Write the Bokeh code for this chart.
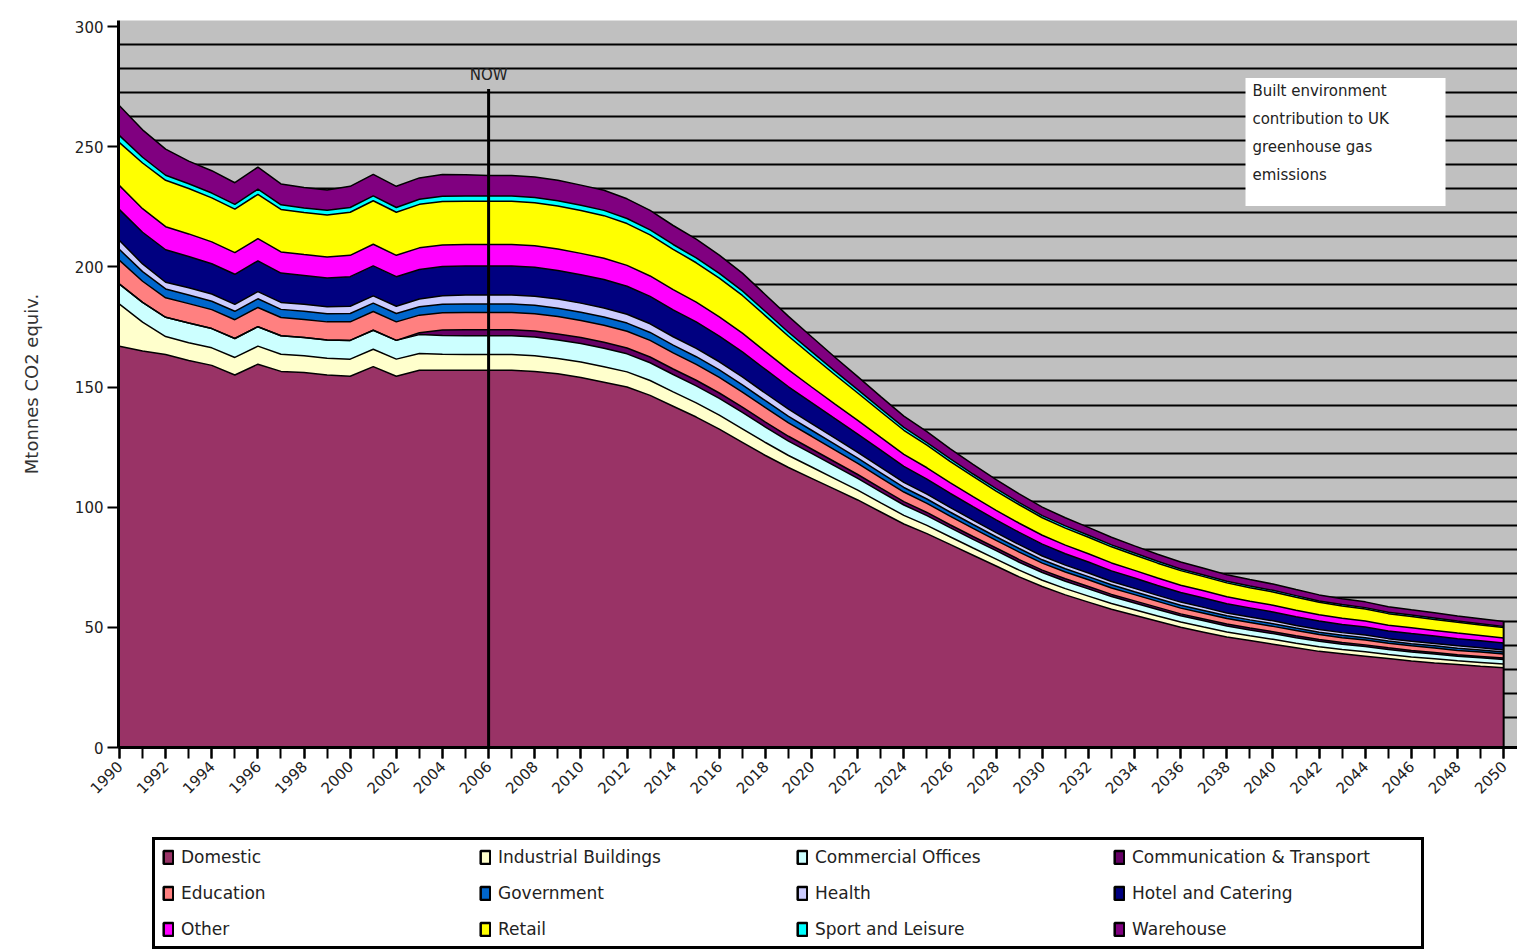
import math
from bokeh.plotting import figure
from bokeh.layouts import column
from bokeh.models import (ColumnDataSource, Range1d, FixedTicker, Grid, Legend,
                          LegendItem, Label, BoxAnnotation)
from bokeh.embed import file_html
from bokeh.resources import INLINE

# ---------------- data ----------------
years = list(range(1990, 2051))
tick_years = list(range(1990, 2051, 2))
y_ticks = [0, 50, 100, 150, 200, 250, 300]
now_year = 2006

labels = ["Domestic", "Industrial Buildings", "Commercial Offices", "Communication & Transport",
          "Education", "Government", "Health", "Hotel and Catering",
          "Other", "Retail", "Sport and Leisure", "Warehouse"]
keys = ["dom", "ind", "com", "ct", "edu", "gov", "hea", "hot", "oth", "ret", "spo", "war"]
colors = ["#993366", "#FFFFCC", "#CCFFFF", "#660066", "#FF8080", "#0066CC",
          "#CCCCFF", "#000080", "#FF00FF", "#FFFF00", "#00FFFF", "#800080"]

# 1990-2006 (history)
dom_hist = [167, 165, 163.5, 161, 159, 155, 159.5, 156.5, 156, 155, 154.5, 158.5, 154.5, 157, 157, 157, 157]
ind_hist = [17.5, 12, 7.5, 7.4, 7.3, 7.3, 7.5, 7.1, 7.0, 7.0, 7.1, 7.2, 7.1, 6.9, 6.6, 6.5, 6.5]
com_hist = [8.3, 8.2, 8.0, 8.2, 8.0, 7.9, 8.1, 7.7, 7.6, 7.6, 7.8, 7.9, 7.8, 7.9, 7.8, 7.8, 7.8]
ct_hist = [0, 0, 0, 0, 0, 0, 0, 0, 0, 0, 0, 0, 0, 0.8, 2.3, 2.5, 2.5]
edu_hist = [9.9, 8.8, 8.1, 8.1, 7.9, 7.8, 8.0, 7.6, 7.5, 7.5, 7.7, 7.8, 7.7, 7.3, 7.2, 7.2, 7.2]
gov_hist = [4.5, 4.0, 3.7, 3.6, 3.5, 3.5, 3.6, 3.4, 3.4, 3.4, 3.5, 3.5, 3.5, 3.5, 3.5, 3.5, 3.5]
hea_hist = [3.8, 3.2, 2.8, 3.0, 3.0, 2.9, 3.0, 2.9, 2.9, 2.9, 3.0, 3.0, 3.0, 3.2, 3.6, 3.8, 3.8]
hot_hist = [12.8, 13.2, 13.5, 13.0, 12.6, 12.5, 12.8, 12.2, 12.0, 12.0, 12.3, 12.5, 12.3, 12.3, 12.1, 12.0, 12.0]
oth_hist = [10.0, 9.8, 9.6, 9.4, 9.1, 9.0, 9.2, 8.8, 8.7, 8.7, 8.9, 9.0, 8.9, 9.0, 9.0, 9.0, 9.0]
ret_hist = [17.9, 19.0, 19.3, 18.9, 18.3, 18.1, 18.5, 17.7, 17.5, 17.5, 17.9, 18.1, 17.9, 18.1, 18.1, 18.0, 18.0]
spo_hist = [2.9, 2.4, 2.1, 2.0, 2.0, 2.0, 2.1, 1.9, 1.9, 1.9, 2.0, 2.0, 2.0, 2.1, 2.2, 2.2, 2.2]
war_hist = [12.4, 11.4, 10.9, 9.4, 9.3, 9.0, 9.2, 8.7, 8.5, 8.5, 8.8, 9.0, 8.8, 8.9, 9.0, 8.8, 8.5]

# 2007-2050 (projection)
dom_proj = [157, 156.5, 155.5, 154, 152, 150, 146.5, 142, 137.5, 132.5, 127, 121.5, 116.5, 112, 107.5,
            103, 98, 93, 89, 84.5, 80, 75.5, 71, 67, 63.5, 60.5, 57.5, 55, 52.5, 50, 48, 46, 44.5,
            43, 41.5, 40, 39, 38, 37, 36, 35.2, 34.5, 33.8, 33.2]
ind_proj = [6.5, 6.5, 6.4, 6.4, 6.4, 6.3, 6.2, 6.0, 5.9, 5.8, 5.6, 5.4, 5.0, 4.7, 4.4, 4.1, 3.8, 3.6,
            3.4, 3.2, 3.0, 2.9, 2.8, 2.6, 2.6, 2.5, 2.4, 2.3, 2.2, 2.2, 2.1, 2.1, 2.0, 2.0, 1.9, 1.9,
            1.8, 1.8, 1.7, 1.7, 1.7, 1.6, 1.6, 1.5]
com_proj = [7.8, 7.8, 7.7, 7.7, 7.7, 7.5, 7.4, 7.2, 7.1, 7.0, 6.8, 6.4, 6.0, 5.7, 5.3, 4.9, 4.6, 4.3,
            4.1, 3.8, 3.6, 3.5, 3.3, 3.2, 3.1, 3.0, 2.9, 2.8, 2.7, 2.6, 2.6, 2.5, 2.4, 2.4, 2.3, 2.3,
            2.2, 2.2, 2.1, 2.0, 2.0, 1.9, 1.9, 1.9]
ct_proj = [2.5, 2.5, 2.5, 2.5, 2.5, 2.4, 2.4, 2.3, 2.3, 2.2, 2.2, 2.1, 2.0, 1.8, 1.7, 1.6, 1.5, 1.4,
           1.3, 1.2, 1.2, 1.1, 1.1, 1.0, 1.0, 1.0, 0.9, 0.9, 0.9, 0.8, 0.8, 0.8, 0.8, 0.8, 0.8, 0.7,
           0.7, 0.7, 0.7, 0.7, 0.6, 0.6, 0.6, 0.6]
edu_proj = [7.2, 7.2, 7.2, 7.1, 7.1, 7.0, 6.9, 6.7, 6.6, 6.5, 6.3, 6.0, 5.6, 5.3, 4.9, 4.6, 4.3, 4.0,
            3.8, 3.6, 3.4, 3.2, 3.1, 2.9, 2.8, 2.8, 2.7, 2.6, 2.5, 2.4, 2.4, 2.3, 2.3, 2.2, 2.2, 2.1,
            2.0, 2.0, 1.9, 1.9, 1.9, 1.8, 1.8, 1.7]
gov_proj = [3.5, 3.5, 3.5, 3.4, 3.4, 3.4, 3.3, 3.2, 3.2, 3.1, 3.0, 2.9, 2.7, 2.5, 2.4, 2.2, 2.1, 1.9,
            1.8, 1.7, 1.6, 1.5, 1.5, 1.4, 1.4, 1.3, 1.3, 1.2, 1.2, 1.2, 1.1, 1.1, 1.1, 1.1, 1.0, 1.0,
            1.0, 1.0, 0.9, 0.9, 0.9, 0.9, 0.9, 0.8]
hea_proj = [3.8, 3.8, 3.8, 3.8, 3.8, 3.7, 3.6, 3.5, 3.5, 3.4, 3.3, 3.1, 3.0, 2.8, 2.6, 2.4, 2.3, 2.1,
            2.0, 1.9, 1.8, 1.7, 1.6, 1.6, 1.5, 1.5, 1.4, 1.4, 1.3, 1.3, 1.3, 1.2, 1.2, 1.2, 1.1, 1.1,
            1.1, 1.1, 1.0, 1.0, 1.0, 1.0, 0.9, 0.9]
hot_proj = [12.0, 12.0, 11.9, 11.8, 11.8, 11.6, 11.4, 11.2, 11.0, 10.7, 10.4, 9.9, 9.3, 8.7, 8.1, 7.6,
            7.1, 6.7, 6.3, 5.9, 5.6, 5.3, 5.1, 4.9, 4.7, 4.6, 4.4, 4.3, 4.1, 4.0, 3.9, 3.8, 3.8, 3.7,
            3.6, 3.5, 3.4, 3.3, 3.2, 3.2, 3.1, 3.0, 2.9, 2.9]
oth_proj = [9.0, 9.0, 8.9, 8.9, 8.9, 8.7, 8.5, 8.4, 8.2, 8.0, 7.8, 7.4, 7.0, 6.5, 6.1, 5.7, 5.3, 5.0,
            4.7, 4.4, 4.2, 4.0, 3.8, 3.7, 3.6, 3.4, 3.3, 3.2, 3.1, 3.0, 3.0, 2.9, 2.8, 2.8, 2.7, 2.6,
            2.6, 2.5, 2.4, 2.4, 2.3, 2.3, 2.2, 2.1]
ret_proj = [18.0, 17.9, 17.9, 17.8, 17.7, 17.4, 17.1, 16.8, 16.4, 16.1, 15.7, 14.9, 14.0, 13.1, 12.2,
            11.4, 10.7, 10.0, 9.4, 8.9, 8.4, 8.0, 7.7, 7.3, 7.1, 6.9, 6.7, 6.4, 6.2, 6.1, 5.9, 5.8,
            5.6, 5.5, 5.4, 5.2, 5.1, 5.0, 4.8, 4.7, 4.6, 4.5, 4.4, 4.3]
spo_proj = [2.2, 2.2, 2.2, 2.2, 2.2, 2.1, 2.1, 2.0, 2.0, 2.0, 1.9, 1.8, 1.7, 1.6, 1.5, 1.4, 1.3, 1.2,
            1.1, 1.1, 1.0, 1.0, 0.9, 0.9, 0.9, 0.8, 0.8, 0.8, 0.8, 0.7, 0.7, 0.7, 0.7, 0.7, 0.7, 0.6,
            0.6, 0.6, 0.6, 0.6, 0.6, 0.5, 0.5, 0.5]
war_proj = [8.5, 8.5, 8.5, 8.4, 8.4, 8.2, 8.1, 7.9, 7.8, 7.6, 7.4, 7.0, 6.6, 6.2, 5.8, 5.4, 5.0, 4.7,
            4.5, 4.2, 4.0, 3.8, 3.6, 3.5, 3.4, 3.3, 3.2, 3.0, 2.9, 2.9, 2.8, 2.7, 2.7, 2.6, 2.5, 2.5,
            2.4, 2.4, 2.3, 2.2, 2.2, 2.1, 2.1, 2.0]

hist = [dom_hist, ind_hist, com_hist, ct_hist, edu_hist, gov_hist, hea_hist, hot_hist,
        oth_hist, ret_hist, spo_hist, war_hist]
proj = [dom_proj, ind_proj, com_proj, ct_proj, edu_proj, gov_proj, hea_proj, hot_proj,
        oth_proj, ret_proj, spo_proj, war_proj]

data = {"year": years}
for k, h, pr in zip(keys, hist, proj):
    col = h + pr
    assert len(col) == len(years), (k, len(col))
    data[k] = col
source = ColumnDataSource(data)
totals = [sum(data[k][i] for k in keys) for i in range(len(years))]

# ---------------- styling ----------------
FONT = "DejaVu Sans"
TXT = "#222222"
pattern_lines = [2.5 + 10 * k for k in range(1, 31)]   # horizontal hatch lines of the plot-area fill

p = figure(width=1517, height=835, output_backend="svg", toolbar_location=None,
           x_range=Range1d(1989.957, 2050.6), y_range=Range1d(0, 302.5),
           min_border_left=118, min_border_right=0, min_border_top=20, min_border_bottom=88)
p.background_fill_color = "#C0C0C0"
p.border_fill_color = "white"
p.outline_line_color = None
p.xgrid.visible = False
p.ygrid.visible = False
p.add_layout(Grid(dimension=1, ticker=FixedTicker(ticks=pattern_lines),
                  grid_line_color="black", grid_line_width=2))

p.varea_stack(stackers=keys, x="year", fill_color=colors, source=source)
p.vline_stack(stackers=keys, x="year", line_color="black", line_width=1.5, source=source)
p.segment(x0=[years[-1]], y0=[0], x1=[years[-1]], y1=[totals[-1]], line_color="black", line_width=2)

# NOW marker
p.segment(x0=[now_year], y0=[0], x1=[now_year], y1=[274], line_color="black", line_width=3)
p.add_layout(Label(x=now_year, y=276, text="NOW", text_align="center", text_baseline="bottom",
                   text_font=FONT, text_font_size="15px", text_color=TXT))

# annotation box
p.add_layout(BoxAnnotation(left=2038.81, right=2047.48, bottom=225.3, top=278.6,
                           fill_color="white", fill_alpha=1, line_color=None, level="annotation"))
box_lines = ["Built environment", "contribution to UK", "greenhouse gas", "emissions"]
for i, t in enumerate(box_lines):
    p.add_layout(Label(x=2039.11, y=273.2 - 11.7 * i, text=t, text_align="left",
                       text_baseline="middle", text_font=FONT, text_font_size="15px",
                       text_color=TXT))

# axes
p.yaxis.ticker = FixedTicker(ticks=y_ticks)
p.yaxis.axis_label = "Mtonnes CO2 equiv."
p.yaxis.axis_label_text_font = FONT
p.yaxis.axis_label_text_font_size = "18px"
p.yaxis.axis_label_text_font_style = "normal"
p.yaxis.axis_label_text_color = "#333333"
p.yaxis.axis_label_standoff = 30
p.xaxis.ticker = FixedTicker(ticks=tick_years, minor_ticks=years)
p.xaxis.major_label_overrides = {y: str(y) for y in tick_years}
p.xaxis.major_label_orientation = math.pi / 4
for ax in (p.xaxis, p.yaxis):
    ax.axis_line_color = "black"
    ax.axis_line_width = 3
    ax.major_tick_line_color = "black"
    ax.major_tick_line_width = 2
    ax.major_tick_out = 11
    ax.major_tick_in = 0
    ax.major_label_text_font = FONT
    ax.major_label_text_font_size = "15px"
    ax.major_label_text_color = TXT
p.xaxis.minor_tick_line_color = "black"
p.xaxis.minor_tick_line_width = 2
p.xaxis.minor_tick_out = 11
p.xaxis.minor_tick_in = 0
p.yaxis.minor_tick_line_color = None
p.yaxis.major_label_standoff = 4

# ---------------- legend strip ----------------
q = figure(width=1517, height=117, output_backend="svg", toolbar_location=None,
           x_range=Range1d(0, 1), y_range=Range1d(0, 1),
           x_axis_location=None, y_axis_location=None, min_border=0)
q.outline_line_color = None
q.grid.visible = False
q.background_fill_color = "white"
q.border_fill_color = "white"
items = []
for lab, c in zip(labels, colors):
    # swatch handle only; its single box lies outside the strip's visible range
    r = q.quad(left=[5], right=[6], top=[6], bottom=[5], fill_color=c,
               line_color="black", line_width=2.5)
    items.append(LegendItem(label=lab, renderers=[r]))
legend = Legend(items=items, orientation="horizontal", ncols=4, location=(34, 3),
                glyph_width=12, glyph_height=16, label_standoff=7, label_width=282,
                label_height=18, spacing=16, padding=7, margin=0,
                label_text_font=FONT, label_text_font_size="17px", label_text_color=TXT,
                border_line_color="black", border_line_width=3, border_line_alpha=1,
                background_fill_color="white", background_fill_alpha=1)
q.add_layout(legend, "center")

layout = column(p, q, spacing=0)
open("out.html", "w").write(file_html(layout, INLINE))
